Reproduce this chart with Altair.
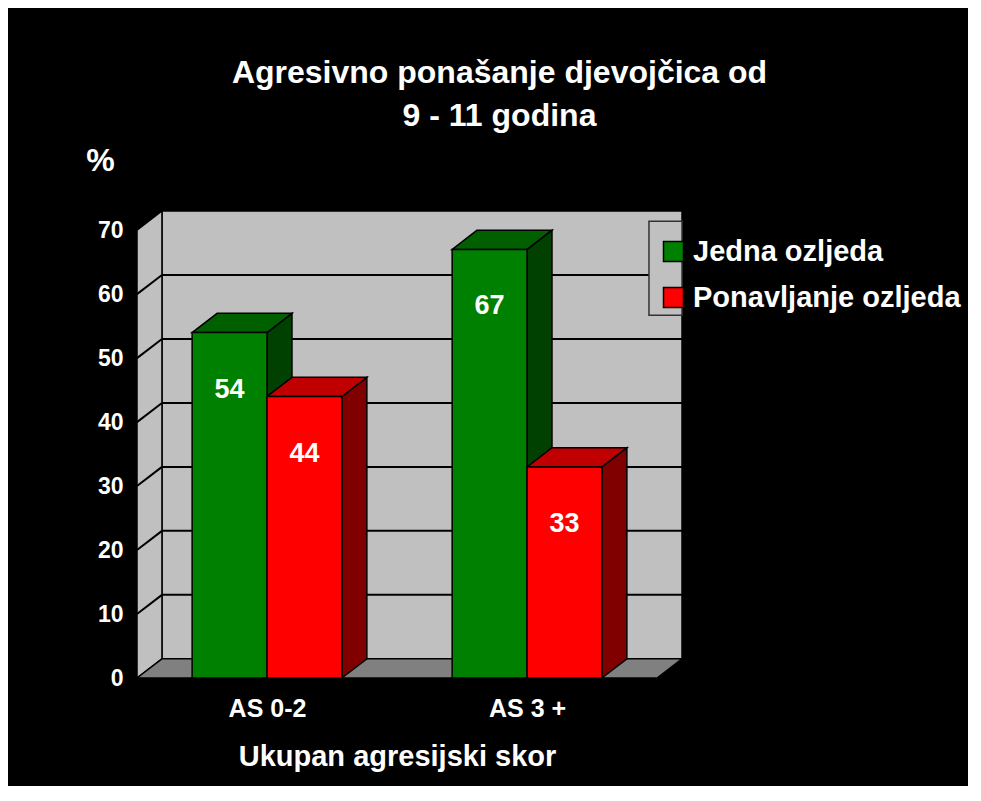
import json
import altair as alt
import pandas as pd

# ---------------- data ----------------
categories = ["AS 0-2", "AS 3 +"]
series = ["Jedna ozljeda", "Ponavljanje ozljeda"]
jedna_ozljeda = [54, 67]
ponavljanje_ozljeda = [44, 33]
y_ticks = [0, 10, 20, 30, 40, 50, 60, 70]
title_lines = ["Agresivno ponašanje djevojčica od", "9 - 11 godina"]
x_title = "Ukupan agresijski skor"
y_title = "%"

# ---------------- style ----------------
FONT = "Liberation Sans"
FRONT = ["#008000", "#FF0000"]
TOP = ["#006000", "#C00000"]
SIDE = ["#004000", "#800000"]
WALL = "#C0C0C0"
FLOOR = "#808080"
DX = 0.096      # 3-D depth, in category units
DY = 3.0        # 3-D depth, in value units
BAR_W = 0.288   # bar width, in category units
Y_MAX = y_ticks[-1]
N = len(categories)
LEGEND_BOX_X = 1.969
LEGEND_BOX_Y = (56.7, 71.4)

PLOT_W, PLOT_H = 545, 467

values = [jedna_ozljeda, ponavljanje_ozljeda]

# ---------------- derived tables ----------------
front_rows, side_rows, top_rows = [], [], []
for i, cat in enumerate(categories):
    for j, name in enumerate(series):
        v = values[j][i]
        x0 = i + (1 - len(series) * BAR_W) / 2 + j * BAR_W
        x1 = x0 + BAR_W
        bid = f"{i}-{j}"
        front_rows.append(dict(id=bid, series=name, x=x0, x2=x1, y=0, y2=v,
                               xc=(x0 + x1) / 2, value=v))
        side_rows += [
            dict(id=bid, c=SIDE[j], x=x1, y=0, y2=v),
            dict(id=bid, c=SIDE[j], x=x1 + DX, y=DY, y2=v + DY),
        ]
        top_rows += [
            dict(id=bid, c=TOP[j], y=v, x=x0, x2=x1),
            dict(id=bid, c=TOP[j], y=v + DY, x=x0 + DX, x2=x1 + DX),
        ]

front_df = pd.DataFrame(front_rows)
side_df = pd.DataFrame(side_rows)
top_df = pd.DataFrame(top_rows)

back_df = pd.DataFrame([dict(x=DX, x2=N + DX, y=DY, y2=Y_MAX + DY)])
leftwall_df = pd.DataFrame([dict(x=0, y=0, y2=Y_MAX), dict(x=DX, y=DY, y2=Y_MAX + DY)])
floor_df = pd.DataFrame([dict(y=0, x=0, x2=N), dict(y=DY, x=DX, x2=N + DX)])
grid_df = pd.DataFrame([dict(t=t, y=t + DY, x=DX, x2=N + DX) for t in y_ticks[1:-1]])
diag_df = pd.DataFrame([dict(t=t, x=0, x2=DX, y=t, y2=t + DY) for t in y_ticks[1:-1]])
legbox_df = pd.DataFrame([dict(x=LEGEND_BOX_X, x2=N + DX, y=LEGEND_BOX_Y[0], y2=LEGEND_BOX_Y[1])])

# ---------------- scales / axes ----------------
xscale = alt.Scale(domain=[0, N + DX], nice=False, zero=False)
yscale = alt.Scale(domain=[0, Y_MAX + DY], nice=False, zero=False)

xaxis = alt.Axis(
    values=[i + 0.5 for i in range(N)],
    labelExpr=f"{json.dumps(categories)}[floor(datum.value)]",
    domain=False, ticks=False, grid=False,
    labelFont=FONT, labelFontSize=25, labelFontWeight="bold", labelColor="white",
    labelPadding=18, labelFlush=False,
    title=x_title, titleFont=FONT, titleFontSize=29, titleFontWeight="bold",
    titleColor="white", titlePadding=21, titleX=260,
)
yaxis = alt.Axis(
    values=y_ticks, domain=False, ticks=False, grid=False,
    labelFont=FONT, labelFontSize=23, labelFontWeight="bold", labelColor="white",
    labelPadding=14,
    title=y_title, titleFont=FONT, titleFontSize=32, titleFontWeight="bold",
    titleColor="white", titleAngle=0, titleX=-37, titleY=-51,
    titleAlign="center", titleBaseline="middle",
)


def X(f="x"):
    return alt.X(f"{f}:Q", scale=xscale, axis=xaxis, title=x_title)


def Y(f="y"):
    return alt.Y(f"{f}:Q", scale=yscale, axis=yaxis, title=y_title)


# ---------------- layers ----------------
back = alt.Chart(back_df).mark_rect(fill=WALL, stroke="black", strokeWidth=1.5).encode(
    x=X(), x2="x2:Q", y=Y(), y2="y2:Q")

leftwall = alt.Chart(leftwall_df).mark_area(
    fill=WALL, stroke="black", strokeWidth=1.5, orient="vertical").encode(
    x=X(), y=Y(), y2="y2:Q")

floor = alt.Chart(floor_df).mark_area(
    fill=FLOOR, stroke="black", strokeWidth=1.5, orient="horizontal").encode(
    y=Y(), x=X(), x2="x2:Q")

grid = alt.Chart(grid_df).mark_rule(color="black", strokeWidth=2).encode(
    x=X(), x2="x2:Q", y=Y())

diag = alt.Chart(diag_df).mark_rule(color="black", strokeWidth=2).encode(
    x=X(), x2="x2:Q", y=Y(), y2="y2:Q")

legbox = alt.Chart(legbox_df).mark_rect(fill=WALL, stroke="#333333", strokeWidth=1.5).encode(
    x=X(), x2="x2:Q", y=Y(), y2="y2:Q")

sides = alt.Chart(side_df).mark_area(
    stroke="black", strokeWidth=1.5, orient="vertical").encode(
    x=X(), y=Y(), y2="y2:Q", detail="id:N",
    fill=alt.Fill("c:N", scale=None))

tops = alt.Chart(top_df).mark_area(
    stroke="black", strokeWidth=1.5, orient="horizontal").encode(
    y=Y(), x=X(), x2="x2:Q", detail="id:N",
    fill=alt.Fill("c:N", scale=None))

fronts = alt.Chart(front_df).mark_rect(stroke="black", strokeWidth=1.5).encode(
    x=X(), x2="x2:Q", y=Y(), y2="y2:Q",
    fill=alt.Fill(
        "series:N",
        scale=alt.Scale(domain=series, range=FRONT),
        legend=alt.Legend(
            orient="none", legendX=522, legendY=26, title=None,
            symbolType="square", symbolSize=400, symbolStrokeColor="black",
            symbolStrokeWidth=1.5, symbolOpacity=1,
            labelColor="white", labelFont=FONT, labelFontSize=29,
            labelFontWeight="bold", labelLimit=500, labelOffset=5,
            rowPadding=16, padding=0,
        ),
    ),
)

labels = alt.Chart(front_df).mark_text(
    color="white", font=FONT, fontSize=27, fontWeight="bold", dy=57, baseline="middle"
).encode(x=X("xc"), y=Y("value"), text="value:Q")

chart = alt.layer(
    back, leftwall, floor, grid, diag, legbox, sides, tops, fronts, labels
).properties(
    width=PLOT_W, height=PLOT_H,
    autosize="none",
    padding={"left": 129, "top": 203, "right": 286, "bottom": 108},
    title=alt.TitleParams(
        text=title_lines, font=FONT, fontSize=32, fontWeight="bold", color="white",
        anchor="middle", dx=90, lineHeight=43, offset=11,
    ),
).configure(background="black").configure_view(stroke=None)

chart.save("out.html", embed_options={"renderer": "svg", "actions": False})
